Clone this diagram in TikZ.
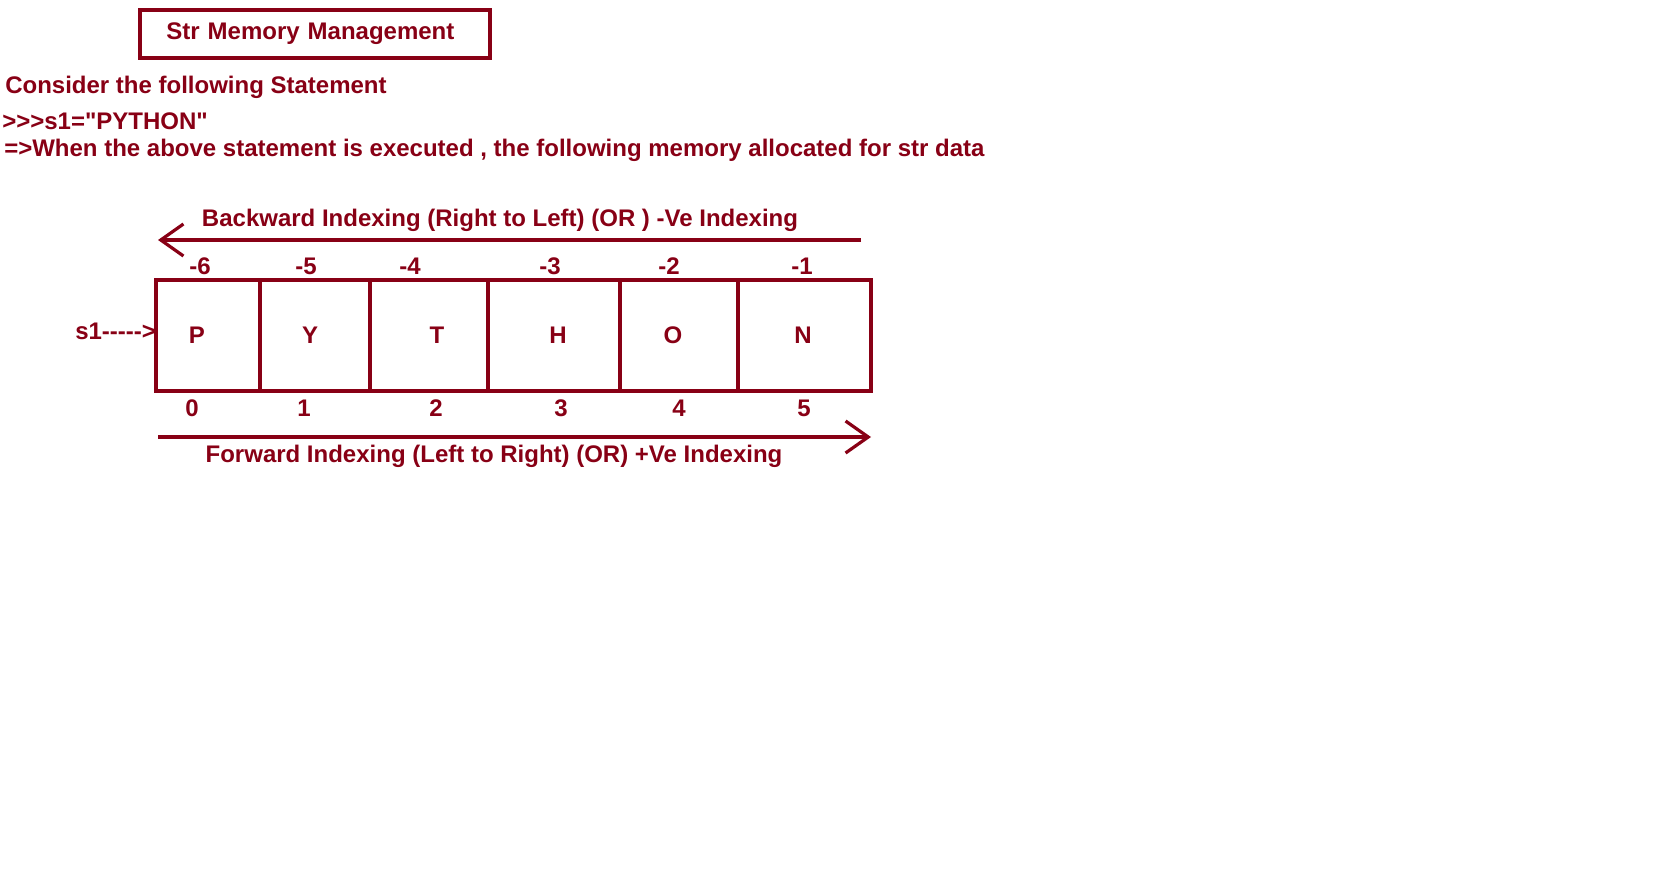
\documentclass[tikz,border=0pt]{standalone}
\usepackage{fontspec}
\setmainfont{Liberation Sans}[Ligatures=TeXOff]
\usetikzlibrary{arrows.meta}
\definecolor{paintred}{HTML}{880015}

\begin{document}
\begin{tikzpicture}[x=0.75pt,y=-0.75pt,>={Straight Barb[length=17pt,width=24pt]},
	every node/.style={text=paintred,font=\bfseries\fontsize{18}{21}\selectfont},
	line/.style={anchor=west,inner sep=0pt},
	idx/.style={inner sep=0pt}]
	\useasboundingbox (0,0) rectangle (1676,882);
	%\draw [help lines] (0,0) grid (1676,882);
	\node [draw=paintred, line width=3pt, text width=223pt, align=left, inner xsep=19.5pt, minimum height=36pt] (title) at (315,34) {Str Memory Management};
	\node [line] (consider) at (5,87) {Consider the following Statement};
	\node [line] (stmt) at (2,121) {>>>s1="PYTHON"};
	\node [line] (when) at (4,150) {=>When the above statement is executed , the following memory allocated for str data};

	% memory cells
	\draw [paintred, line width=3pt] (156,280) rectangle (871,391);
	\foreach \x in {260,370,488,620,738}
		\draw [paintred, line width=3pt] (\x,280) -- (\x,391);
	\foreach \ch/\x [count=\i] in {P/197,Y/310,T/437,H/558,O/673,N/803}
		\node [idx] (c\i) at (\x,335) {\ch};
	\node [line] (s1) at (75,331) {s1----->};

	% indices
	\foreach \n/\x [count=\i] in {-6/200,-5/306,-4/410,-3/550,-2/669,-1/802}
		\node [idx] (neg\i) at (\x,266) {\n};
	\foreach \n/\x in {0/192,1/304,2/436,3/561,4/679,5/804}
		\node [idx] (pos\n) at (\x,408) {\n};

	% arrows
	\coordinate (bstart) at (861,240);
	\coordinate (bend) at (158,240);
	\draw [->, paintred, line width=2.4pt] (bstart) -- (bend);
	\node [idx] (back) at (500,220) {Backward Indexing (Right to Left) (OR ) -Ve Indexing};
	\coordinate (fstart) at (158,437);
	\coordinate (fend) at (871,437);
	\draw [->, paintred, line width=2.4pt] (fstart) -- (fend);
	\node [idx] (fwd) at (494,456) {Forward Indexing (Left to Right) (OR) +Ve Indexing};
\end{tikzpicture}
\end{document}
